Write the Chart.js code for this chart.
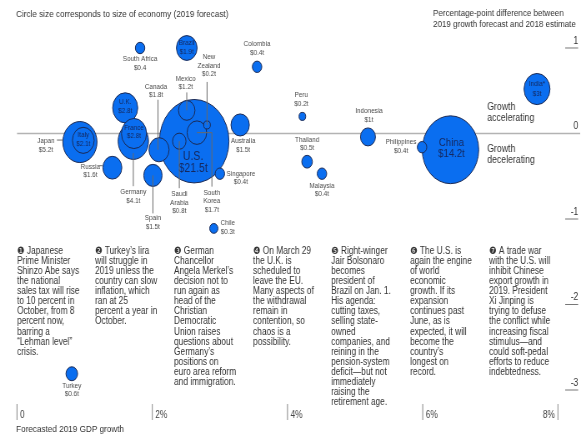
<!DOCTYPE html>
<html>
<head>
<meta charset="utf-8">
<script src="https://cdn.jsdelivr.net/npm/chart.js@4.4.1/dist/chart.umd.min.js"></script>
<style>
  html, body { margin: 0; padding: 0; background: #fff; overflow: hidden; }
</style>
</head>
<body>
<!-- drawn 20% wider, then squeezed back to 581px so bubbles and type come out narrow -->
<canvas id="chart" width="697" height="434" style="width:581px;height:434px;display:block"></canvas>
<script>
// economies, biggest first so the small ones sit on top
const countries = ['U.S.', 'China', 'Japan', 'Germany', 'India', 'U.K.', 'France', 'Italy', 'Brazil',
  'Canada', 'South Korea', 'Russia', 'Australia', 'Spain', 'Mexico', 'Indonesia', 'Saudi Arabia',
  'Turkey', 'Thailand', 'South Africa', 'Colombia', 'Singapore', 'Malaysia', 'Philippines', 'Chile',
  'Peru', 'New Zealand'];
// 2019 GDP forecast, $ trillions
const gdp = [21.5, 14.2, 5.2, 4.1, 3, 2.8, 2.8, 2.1, 1.9, 1.8, 1.7, 1.6, 1.5, 1.5, 1.2, 1, 0.8,
  0.6, 0.5, 0.4, 0.4, 0.4, 0.4, 0.4, 0.3, 0.2, 0.2];
// forecasted 2019 GDP growth, %
const growth2019 = [2.62, 6.41, 0.93, 1.72, 7.69, 1.60, 1.73, 0.98, 2.51, 2.10, 2.66, 1.41, 3.30, 2.01,
  2.51, 5.19, 2.40, 0.81, 4.29, 1.82, 3.55, 3.00, 4.51, 5.99, 2.91, 4.22, 2.81];
// 2019 forecast minus 2018 estimate, percentage points
const change = [-0.09, -0.19, -0.10, -0.09, 0.52, 0.30, 0.0, -0.08, 1.00, -0.19, 0.01, -0.40, 0.10,
  -0.49, 0.27, -0.04, -0.09, -2.81, -0.33, 1.00, 0.78, -0.47, -0.47, -0.16, -1.11, 0.20, 0.10];

const xTicks = [0, 2, 4, 6, 8];
const yTicks = [1, 0, -1, -2, -3];

const SX = 1.2;           // horizontal stretch of the drawing canvas
const RK = 9;             // bubble radius per sqrt($ trillion)
const FONT = '"Liberation Sans", Arial, "DejaVu Sans", sans-serif';
const BLUE = '#0a6ef0';
const NAVY = '#15285e';

// label placement around each bubble (offsets in screen px from the centre)
const callouts = {
  'U.S.':         { dx: -1, dy: 15, lh: 12, size: 12.5, inside: true },
  'China':        { dx: 1, dy: -7, lh: 11.5, size: 11.5, inside: true },
  'Japan':        { dx: -34, dy: -1, line: [[-23, -2], [-17, -2]] },
  'Germany':      { dy: 51, line: [[0, 12], [0, 45]] },
  'India':        { dy: -5, lh: 10, inside: true, text: ['India*', '$3t'] },
  'U.K.':         { dy: -5.5, inside: true },
  'France':       { dy: -6, inside: true },
  'Italy':        { dy: -5, inside: true },
  'Brazil':       { dy: -5, inside: true },
  'Canada':       { dx: -3, dy: -63, line: [[-1, 0], [-1, -50]] },
  'South Korea':  { dx: 15, dy: 60, line: [[0, 0], [15, 0], [15, 54]], text: ['South', 'Korea', '$1.7t'] },
  'Russia':       { dx: -22, dy: -1, line: [[-13, -2], [-10, -2]] },
  'Australia':    { dx: 3, dy: 16 },
  'Spain':        { dy: 43, line: [[0, 0], [0, 38]] },
  'Mexico':       { dx: -1, dy: -32, line: [[0, 0], [0, -18]] },
  'Indonesia':    { dx: 1, dy: -26, text: ['Indonesia', '$1t'] },
  'Saudi Arabia': { dy: 53, line: [[0, 0], [0, 47]], text: ['Saudi', 'Arabia', '$0.8t'] },
  'Turkey':       { dy: 12 },
  'Thailand':     { dy: -22 },
  'South Africa': { dy: 11, text: ['South Africa', '$0.4'] },
  'Colombia':     { dy: -23 },
  'Singapore':    { dx: 21, dy: 0 },
  'Malaysia':     { dy: 12 },
  'Philippines':  { dx: -21, dy: -5 },
  'Chile':        { dx: 14, dy: -5 },
  'Peru':         { dx: -1, dy: -21 },
  'New Zealand':  { dx: 2, dy: -68, line: [[0, 0], [0, -43]], text: ['New', 'Zealand', '$0.2t'] }
};

// numbered notes under the bubbles
const notes = [
  { x: 17, lines: ['\u2776 Japanese', 'Prime Minister', 'Shinzo Abe says', 'the national', 'sales tax will rise',
    'to 10 percent in', 'October, from 8', 'percent now,', 'barring a', '\u201cLehman level\u201d', 'crisis.'] },
  { x: 95, lines: ['\u2777 Turkey\u2019s lira', 'will struggle in', '2019 unless the', 'country can slow',
    'inflation, which', 'ran at 25', 'percent a year in', 'October.'] },
  { x: 174, lines: ['\u2778 German', 'Chancellor', 'Angela Merkel\u2019s', 'decision not to', 'run again as',
    'head of the', 'Christian', 'Democratic', 'Union raises', 'questions about', 'Germany\u2019s',
    'positions on', 'euro area reform', 'and immigration.'] },
  { x: 253, lines: ['\u2779 On March 29', 'the U.K. is', 'scheduled to', 'leave the EU.', 'Many aspects of',
    'the withdrawal', 'remain in', 'contention, so', 'chaos is a', 'possibility.'] },
  { x: 331, lines: ['\u277a Right-winger', 'Jair Bolsonaro', 'becomes', 'president of', 'Brazil on Jan. 1.',
    'His agenda:', 'cutting taxes,', 'selling state-', 'owned', 'companies, and', 'reining in the',
    'pension-system', 'deficit\u2014but not', 'immediately', 'raising the', 'retirement age.'] },
  { x: 410, lines: ['\u277b The U.S. is', 'again the engine', 'of world', 'economic', 'growth. If its',
    'expansion', 'continues past', 'June, as is', 'expected, it will', 'become the', 'country\u2019s',
    'longest on', 'record.'] },
  { x: 489, lines: ['\u277c A trade war', 'with the U.S. will', 'inhibit Chinese', 'export growth in',
    '2019. President', 'Xi Jinping is', 'trying to defuse', 'the conflict while', 'increasing fiscal',
    'stimulus\u2014and', 'could soft-pedal', 'efforts to reduce', 'indebtedness.'] }
];

function txt(ctx, s, x, y, size, color, align) {
  ctx.font = size + 'px ' + FONT;
  ctx.fillStyle = color;
  ctx.textAlign = align || 'left';
  ctx.textBaseline = 'middle';
  ctx.fillText(s, x, y);
}

function seg(ctx, pts, color, w) {
  ctx.beginPath();
  ctx.strokeStyle = color;
  ctx.lineWidth = w;
  pts.forEach((p, i) => i ? ctx.lineTo(p[0], p[1]) : ctx.moveTo(p[0], p[1]));
  ctx.stroke();
}

const overlay = {
  id: 'overlay',
  beforeDatasetsDraw(chart) {
    const {ctx, scales: {x, y}} = chart;
    ctx.save();
    seg(ctx, [[x.getPixelForValue(0), y.getPixelForValue(0)], [580 * SX, y.getPixelForValue(0)]], '#b3b3b3', 1.6);
    ctx.restore();
  },
  afterDatasetsDraw(chart) {
    const {ctx, scales: {x, y}} = chart;
    ctx.save();

    // callout lines and bubble labels
    countries.forEach((name, i) => {
      const c = callouts[name];
      if (!c) return;
      const cx = x.getPixelForValue(growth2019[i]);
      const cy = y.getPixelForValue(change[i]);
      if (c.line) {
        seg(ctx, c.line.map(p => [cx + p[0] * SX, cy + p[1]]), c.inside ? NAVY : '#6a6a6a', 1);
      }
      const lines = c.text || [name, '$' + gdp[i] + 't'];
      const lh = c.lh || 8.6;
      lines.forEach((s, k) => {
        txt(ctx, s, cx + (c.dx || 0) * SX, cy + c.dy + k * lh, c.size || 7.6,
          c.inside ? NAVY : '#4a4a4a', 'center');
      });
    });

    // y axis on the right
    yTicks.forEach(v => {
      const py = y.getPixelForValue(v);
      txt(ctx, String(v), 578 * SX, py - 7, 10, '#333', 'right');
      if (v !== 0) seg(ctx, [[565 * SX, py], [578 * SX, py]], '#777', 1);
    });

    // x axis along the bottom
    xTicks.forEach(v => {
      const px = x.getPixelForValue(v);
      seg(ctx, [[px, 404], [px, 420]], '#999', 1.2);
      const label = v === 0 ? '0' : v + '%';
      if (v === xTicks[xTicks.length - 1]) txt(ctx, label, px - 3 * SX, 415, 10, '#444', 'right');
      else txt(ctx, label, px + 3 * SX, 415, 10, '#444', 'left');
    });
    txt(ctx, 'Forecasted 2019 GDP growth', 16 * SX, 429, 9.8, '#333', 'left');

    // headings
    txt(ctx, 'Circle size corresponds to size of economy (2019 forecast)', 16 * SX, 14, 9.8, '#333', 'left');
    txt(ctx, 'Percentage-point difference between', 433 * SX, 13, 9.6, '#333', 'left');
    txt(ctx, '2019 growth forecast and 2018 estimate', 433 * SX, 24, 9.6, '#333', 'left');
    txt(ctx, 'Growth', 487 * SX, 107, 10.5, '#333', 'left');
    txt(ctx, 'accelerating', 487 * SX, 118, 10.5, '#333', 'left');
    txt(ctx, 'Growth', 487 * SX, 149, 10.5, '#333', 'left');
    txt(ctx, 'decelerating', 487 * SX, 160, 10.5, '#333', 'left');

    // notes
    notes.forEach(n => {
      n.lines.forEach((s, k) => txt(ctx, s, n.x * SX, 251 + k * 10.1, 10, '#333', 'left'));
    });
    ctx.restore();
  }
};

const data = {
  datasets: [{
    label: 'Economies',
    data: countries.map((c, i) => ({ x: growth2019[i], y: change[i], r: RK * Math.sqrt(gdp[i]) })),
    backgroundColor: BLUE,
    borderColor: '#1b2a55',
    borderWidth: 1,
    clip: false
  }]
};

const config = {
  type: 'bubble',
  data,
  options: {
    responsive: false,
    animation: false,
    events: [],
    devicePixelRatio: 1,
    layout: { padding: 0, autoPadding: false },
    plugins: { legend: { display: false }, tooltip: { enabled: false } },
    scales: {
      // ranges chosen so the plot area fills the whole canvas
      x: { type: 'linear', display: false, min: -0.2515, max: 8.3407 },
      y: { type: 'linear', display: false, min: -3.5146, max: 1.5614 }
    }
  },
  plugins: [overlay]
};

const myChart = new Chart(document.getElementById('chart'), config);
</script>
</body>
</html>
